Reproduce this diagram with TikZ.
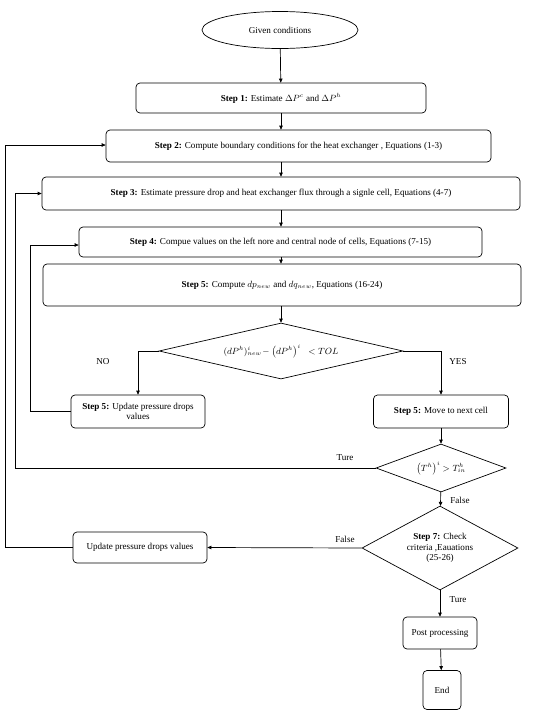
\documentclass[tikz,border=0pt]{standalone}
\usepackage{fontspec}
\setmainfont{Liberation Serif}
\usetikzlibrary{shapes.geometric,arrows.meta}
\begin{document}
\begin{tikzpicture}[x=1pt,y=-1pt,
  font=\fontsize{9.1}{10.2}\selectfont,
  line width=0.7pt,
  box/.style={draw, rounded corners=4pt, inner sep=1pt, align=center},
  dia/.style={draw, diamond, inner sep=0pt, align=center},
  arr/.style={-{Triangle[length=4pt,width=3.5pt]}},
  lbl/.style={inner sep=1pt}]
\useasboundingbox (0,0) rectangle (550,713);
\fill[white] (0,0) rectangle (550,713);

\node[draw, ellipse, minimum width=156pt, minimum height=37pt, inner sep=0pt] (given) at (280,30) {Given conditions};
\node[box, minimum width=290pt, minimum height=30pt] (s1) at (281,98) {\textbf{Step 1:} Estimate $\Delta P^c$ and $\Delta P^h$};
\node[box, minimum width=385pt, minimum height=32pt] (s2) at (298.5,146) {\textbf{Step 2:} Compute boundary conditions for the heat exchanger , Equations (1-3)};
\node[box, minimum width=478pt, minimum height=33pt] (s3) at (281,193.5) {\textbf{Step 3:} Estimate pressure drop and heat exchanger flux through a signle cell, Equations (4-7)};
\node[box, minimum width=403pt, minimum height=30pt] (s4) at (280.5,242) {\textbf{Step 4:} Compue values on the left nore and central node of cells, Equations (7-15)};
\node[box, minimum width=478pt, minimum height=42pt] (s5) at (282,285) {\textbf{Step 5:} Compute $dp_{new}$ and $dq_{new}$, Equations (16-24)};

\node[dia, aspect=4.36, minimum width=244pt, minimum height=56pt] (d1) at (281,351) {$(dP^h)^i_{new}\!-\left(dP^h\right)^i\;\;<TOL$};

\node[box, minimum width=134pt, minimum height=33pt] (u1) at (138,411.5) {\textbf{Step 5:} Update pressure drops\\values};
\node[box, minimum width=135pt, minimum height=33pt] (mv) at (441,411.5) {\textbf{Step 5:} Move to next cell};

\node[dia, aspect=2.7, minimum width=130pt, minimum height=48pt] (d2) at (441,468) {$\left(T^h\right)^i > T^h_{in}$};

\node[dia, aspect=1.86, minimum width=156pt, minimum height=84pt] (d3) at (440,548) {\textbf{Step 7:} Check\\criteria ,Eauations\\(25-26)};

\node[box, minimum width=134pt, minimum height=31pt] (u2) at (140,547.5) {Update pressure drops values};
\node[box, minimum width=74pt, minimum height=32pt] (pp) at (440,633) {Post processing};
\node[box, minimum width=38pt, minimum height=39pt] (en) at (442,690) {End};

\coordinate (c1) at (15,193.5);
\coordinate (c2) at (30,245);
\coordinate (c3) at (5,145);

\draw[arr] (given) -- (s1);
\draw[arr] (s1.south) -- (s1.south |- s2.north);
\draw[arr] (s1.south |- s2.south) -- (s1.south |- s3.north);
\draw[arr] (s3.south -| s1.south) -- (s1.south |- s4.north);
\draw[arr] (s4.south -| s1.south) -- (s1.south |- s5.north);
\draw[arr] (s5.south -| d1.north) -- (d1.north);
\draw[arr] (d1.west) -| (u1.north);
\draw[arr] (d1.east) -| (mv.north);
\draw[arr] (mv) -- (d2);
\draw[arr] (d2.west) -| (c1) -- (s3.west);
\draw[arr] (u1.west) -| (c2) -- (s4.west |- c2);
\draw[arr] (d2) -- (d3);
\draw[arr] (d3.west) -- (u2.east);
\draw[arr] (u2.west) -| (c3) -- (s2.west |- c3);
\draw[arr] (d3) -- (pp);
\draw[arr] (pp) -- (en);

\node[lbl] (lno) at (103,362) {NO};
\node[lbl] (lyes) at (458,362) {YES};
\node[lbl] (lt1) at (345,458) {Ture};
\node[lbl] (lf1) at (460,500) {False};
\node[lbl] (lf2) at (345,539) {False};
\node[lbl] (lt2) at (458,600) {Ture};
\end{tikzpicture}
\end{document}
